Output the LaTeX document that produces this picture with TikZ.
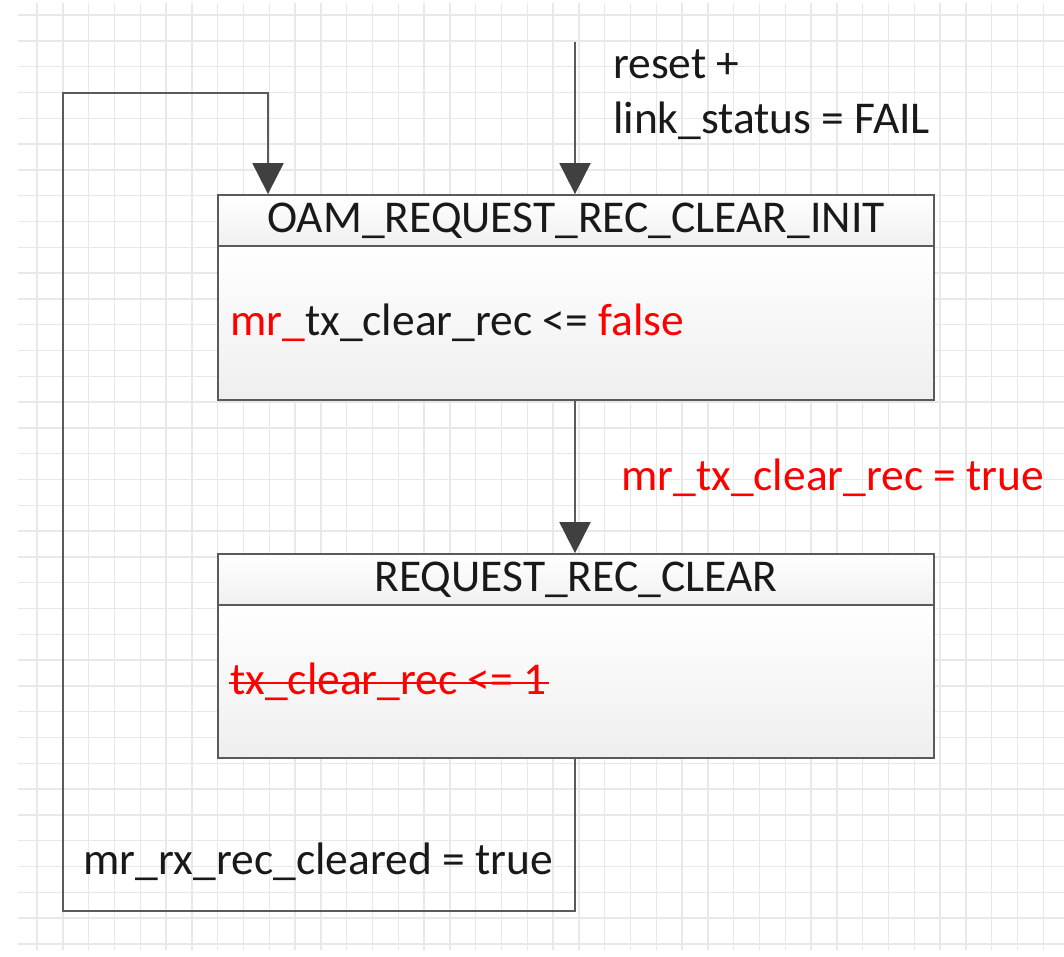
\documentclass[tikz,border=0pt]{standalone}
\usepackage{fontspec}
\setmainfont{Carlito}
\usetikzlibrary{arrows.meta}
\definecolor{gridc}{HTML}{E8E8E8}
\definecolor{linec}{HTML}{5A5A5A}
\definecolor{tipc}{HTML}{404040}
\definecolor{redc}{HTML}{FF0000}
\tikzset{
  hdr/.style={draw=linec, line width=1.8pt, top color=white, bottom color=gray!12, minimum width=716pt, minimum height=51pt, inner sep=0pt, font=\fontsize{45.5}{52}\selectfont, text=black!90},
  bodybox/.style={draw=linec, line width=1.8pt, top color=white, bottom color=gray!13, minimum width=716pt, inner sep=0pt},
  lbl/.style={font=\fontsize{45.5}{52}\selectfont, inner sep=0pt, anchor=base west, text=black!90},
  conn/.style={draw=linec, line width=2pt},
  arr/.style={conn, -{Triangle[width=31pt,length=31pt]}, arrows={[color=tipc]}},
}
\begin{document}
\begin{tikzpicture}[x=1pt,y=-1pt]
\useasboundingbox (0,0) rectangle (1064,956);
\fill[white] (0,0) rectangle (1064,956);
% grid
\foreach \k in {0,...,40} {
  \pgfmathsetmacro{\xx}{37+\k*25.8}
  \ifdim \xx pt<1064pt \draw[gridc, line width=1.4pt] (\xx,3) -- (\xx,950); \fi
}
\foreach \k in {0,...,36} {
  \pgfmathsetmacro{\yy}{15+\k*25.8}
  \ifdim \yy pt<952pt \draw[gridc, line width=1.4pt] (18,\yy) -- (1064,\yy); \fi
}
% box 1
\node[bodybox, minimum height=154pt] (b1) at (576,323) {};
\node[hdr] (h1) at (576,220.5) {OAM\_REQUEST\_REC\_CLEAR\_INIT};
\node[lbl] (t1) at (230,335) {\textcolor{redc}{mr\_}tx\_clear\_rec <= \textcolor{redc}{false}};
% box 2
\node[bodybox, minimum height=154pt] (b2) at (576,681) {};
\node[hdr] (h2) at (576,579.5) {REQUEST\_REC\_CLEAR};
\node[lbl, text=redc] (t2) at (230,694) {tx\_clear\_rec <= 1};
\draw[redc, line width=2.4pt] ([xshift=-1pt,yshift=11pt]t2.base west) -- ([xshift=2pt,yshift=11pt]t2.base east);
% connectors
\coordinate (s) at (575,42);
\coordinate (lb) at (63,911);
\coordinate (lt) at (63,93);
\coordinate (a2) at (268,93);
\draw[arr] (s) -- (s |- h1.north);
\draw[arr] (b1.south -| s) -- (s |- h2.north);
\draw[arr] (b2.south -| s) -- (s |- lb) -- (lb) -- (lt) -- (a2) -- (a2 |- h1.north);
% labels
\node[lbl] (l1) at (613,78) {reset +};
\node[lbl] (l2) at (613,133) {link\_status = FAIL};
\node[lbl, text=redc] (l3) at (621,490) {mr\_tx\_clear\_rec = true};
\node[lbl] (l4) at (83,874) {mr\_rx\_rec\_cleared = true};
\end{tikzpicture}
\end{document}
